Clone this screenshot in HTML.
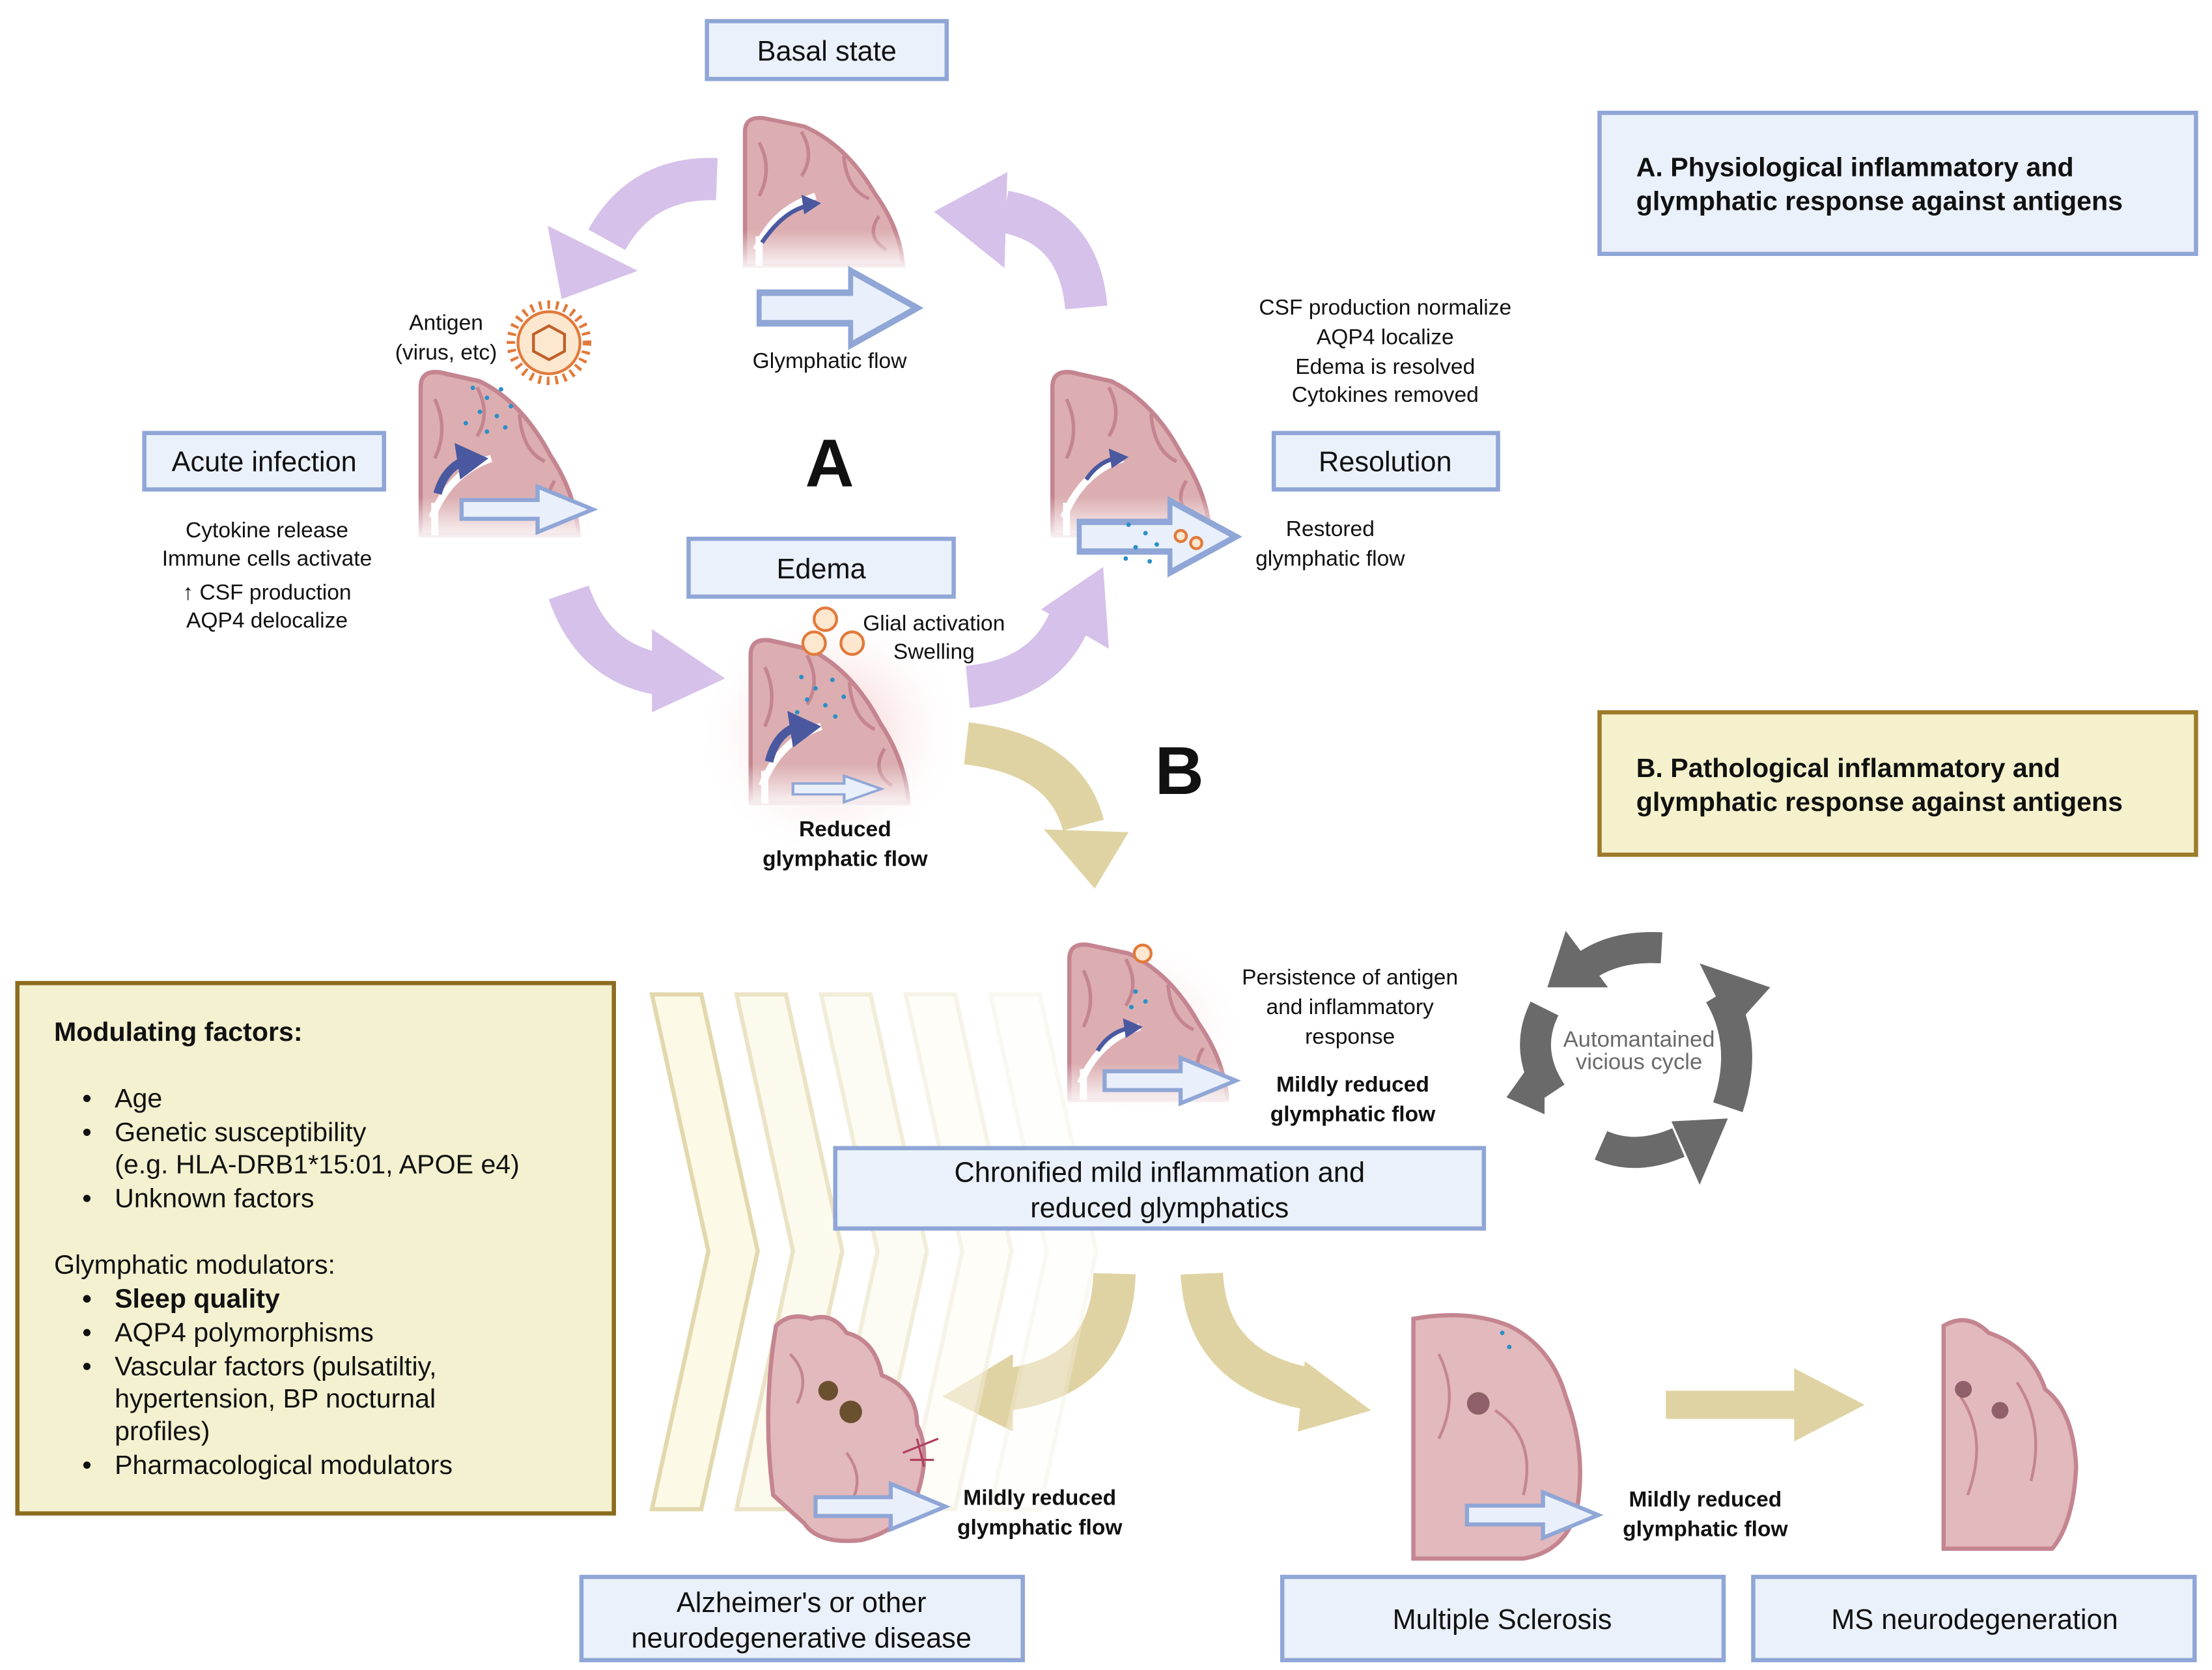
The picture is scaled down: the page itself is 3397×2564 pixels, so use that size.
<!DOCTYPE html>
<html><head><meta charset="utf-8"><style>
html,body{margin:0;padding:0;background:#fff;overflow:hidden}
svg{display:block}
text{font-family:"Liberation Sans",sans-serif;fill:#111}
</style></head><body>
<svg width="3397" height="2564" viewBox="0 0 1568 1184" xmlns="http://www.w3.org/2000/svg">
<defs>
<radialGradient id="glow" cx="50%" cy="50%" r="50%"><stop offset="0" stop-color="#f3b5b8" stop-opacity="0.9"/><stop offset="1" stop-color="#fff" stop-opacity="0"/></radialGradient>
<linearGradient id="fade" x1="0" y1="0" x2="0" y2="1"><stop offset="0.75" stop-color="#fff" stop-opacity="0"/><stop offset="1" stop-color="#fff" stop-opacity="0.9"/></linearGradient>
<g id="brain">
<path d="M0,112 L0,12 Q0,0 14,2 L42,8 Q72,22 92,58 Q110,84 112,112 Z" fill="#dcaeb1" stroke="#c48590" stroke-width="3"/>
<path d="M10,20 Q20,40 10,60 M40,12 Q50,30 40,45 M70,30 Q72,55 88,62 M95,75 Q85,90 100,100" fill="none" stroke="#c48590" stroke-width="2.5"/>
<path d="M8,100 Q20,70 50,60 M10,112 L10,90" fill="none" stroke="#fff" stroke-width="5"/>
<rect x="-2" y="0" width="116" height="114" fill="url(#fade)"/>
</g>
<g id="flow"><path d="M0,10 L55,10 L55,0 L95,17 L55,34 L55,24 L0,24 Z" fill="#e9f0fb" stroke="#8fa6d6" stroke-width="3"/></g>
</defs>

<!-- purple arrows -->
<g fill="none" stroke="#d6c1ea" stroke-width="30">
<path d="M508,127 Q455,125 430,170"/>
<path d="M770,218 Q765,160 712,150"/>
<path d="M403,420 Q420,470 468,478"/>
<path d="M686,487 Q740,482 758,440"/>
</g>
<g fill="#d6c1ea">
<polygon points="398,212 388,160 452,192"/>
<polygon points="662,150 714,122 712,190"/>
<polygon points="514,481 462,446 462,505"/>
<polygon points="782,402 738,432 786,460"/>
</g>
<!-- tan arrows -->
<g fill="none" stroke="#e0d3a3" stroke-width="30">
<path d="M685,527 Q755,535 768,585"/>
<path d="M790,903 Q788,975 715,985"/>
<path d="M852,903 Q855,972 930,985"/>
</g>
<g fill="#e0d3a3">
<polygon points="776,630 740,588 800,590"/>
<polygon points="668,990 718,960 718,1015"/>
<polygon points="972,1000 925,965 920,1015"/>
<polygon points="1181,986 1272,986 1272,970 1322,996 1272,1022 1272,1006 1181,1006"/>
</g>

<!-- chevrons -->
<g stroke-width="3">
<polygon points="462,705 497,705 537,887 497,1070 462,1070 502,887" fill="#fcf9e6" stroke="#e3d8ad"/>
<polygon points="522,705 557,705 597,887 557,1070 522,1070 562,887" fill="#fcfaeb" stroke="#e8dfbc" opacity="0.85"/>
<polygon points="582,705 617,705 657,887 617,1070 582,1070 622,887" fill="#fdfbf0" stroke="#ede6c9" opacity="0.7"/>
<polygon points="642,705 677,705 717,887 677,1070 642,1070 682,887" fill="#fefcf4" stroke="#f1ebd6" opacity="0.55"/>
<polygon points="702,705 737,705 777,887 737,1070 702,1070 742,887" fill="#fefdf8" stroke="#f5f0e2" opacity="0.4"/>
</g>

<!-- glow -->
<ellipse cx="588" cy="520" rx="95" ry="90" fill="url(#glow)"/>
<ellipse cx="812" cy="730" rx="70" ry="65" fill="url(#glow)" opacity="0.6"/>

<!-- brains -->
<use href="#brain" transform="translate(528,82) scale(1,0.95)"/>
<use href="#brain" transform="translate(298,262) scale(1,1.05)"/>
<use href="#brain" transform="translate(746,262) scale(1,1.05)"/>
<use href="#brain" transform="translate(532,452) scale(1,1.05)"/>
<use href="#brain" transform="translate(758,668) scale(1,1)"/>

<!-- bottom brains -->
<g stroke="#c48590" stroke-width="3" fill="#e2b9bc">
<path d="M550,940 Q560,930 575,935 Q590,930 600,945 Q620,950 625,975 Q650,985 650,1010 Q660,1030 650,1060 Q640,1085 610,1092 Q580,1095 570,1080 L548,1060 Q540,1000 550,940 Z"/>
<path d="M1002,935 Q1040,928 1070,940 Q1100,955 1110,990 Q1125,1030 1118,1070 Q1110,1100 1080,1105 L1002,1105 Z"/>
<path d="M1378,940 Q1395,930 1410,945 Q1440,955 1450,985 Q1470,1000 1472,1040 Q1470,1080 1455,1098 L1378,1098 Z"/>
</g>
<g fill="none" stroke="#c48590" stroke-width="2">
<path d="M560,960 Q575,975 565,995 M600,1030 Q615,1050 600,1070 M1020,960 Q1035,990 1020,1020 M1060,1000 Q1090,1020 1080,1060 M1390,990 Q1410,1020 1395,1060 M1430,980 Q1450,1010 1440,1050"/>
</g>
<g fill="#6b5030"><circle cx="587" cy="986" r="7"/><circle cx="603" cy="1001" r="8"/></g>
<g fill="#7a4a55" opacity="0.8"><circle cx="1048" cy="995" r="8"/><circle cx="1392" cy="985" r="6"/><circle cx="1418" cy="1000" r="6"/></g>
<path d="M640,1030 L665,1020 M650,1020 L655,1040 M645,1035 L662,1035" stroke="#b04060" stroke-width="1.5"/>

<!-- inner blue arrows -->
<g fill="#4a58a0">
<path d="M540,172 Q555,150 572,146" stroke="#4a58a0" stroke-width="3" fill="none"/><polygon points="582,144 568,138 570,152"/>
<polygon points="346,325 322,314 326,340"/><path d="M310,350 Q315,332 330,326" stroke="#4a58a0" stroke-width="6" fill="none"/>
<polygon points="800,324 786,318 788,332"/><path d="M770,340 Q778,328 790,325" stroke="#4a58a0" stroke-width="3" fill="none"/>
<polygon points="582,515 558,504 562,530"/><path d="M545,540 Q550,520 565,515" stroke="#4a58a0" stroke-width="6" fill="none"/>
<polygon points="810,728 796,722 798,736"/><path d="M778,745 Q786,732 800,729" stroke="#4a58a0" stroke-width="3" fill="none"/>
</g>
<!-- dots -->
<g fill="#2a8fc8">
<circle cx="335" cy="275" r="1.6"/><circle cx="345" cy="282" r="1.6"/><circle cx="355" cy="276" r="1.6"/><circle cx="340" cy="292" r="1.6"/><circle cx="352" cy="295" r="1.6"/><circle cx="362" cy="288" r="1.6"/><circle cx="330" cy="300" r="1.6"/><circle cx="358" cy="303" r="1.6"/><circle cx="345" cy="306" r="1.6"/>
<circle cx="568" cy="480" r="1.6"/><circle cx="578" cy="488" r="1.6"/><circle cx="590" cy="482" r="1.6"/><circle cx="572" cy="496" r="1.6"/><circle cx="585" cy="500" r="1.6"/><circle cx="598" cy="494" r="1.6"/><circle cx="565" cy="505" r="1.6"/><circle cx="592" cy="508" r="1.6"/>
<circle cx="805" cy="703" r="1.6"/><circle cx="812" cy="710" r="1.6"/><circle cx="802" cy="714" r="1.6"/>
<circle cx="1065" cy="945" r="1.6"/><circle cx="1070" cy="955" r="1.6"/>
</g>

<!-- virus -->
<g fill="none" stroke="#e27a3b" stroke-width="2">
<circle cx="389" cy="243" r="22" fill="#fde8cf"/>
<circle cx="389" cy="243" r="27" stroke-dasharray="2 4" stroke-width="6"/>
<polygon points="389,231 400,237 400,249 389,255 378,249 378,237" stroke="#c0602a"/>
<circle cx="585" cy="439" r="8" fill="#fde8cf"/><circle cx="577" cy="456" r="8" fill="#fde8cf"/><circle cx="604" cy="456" r="8" fill="#fde8cf"/><circle cx="810" cy="676" r="6" fill="#fde8cf"/>
</g>

<!-- flow arrows -->
<use href="#flow" transform="translate(538,192) scale(1.18,1.55)"/>
<use href="#flow" transform="translate(327,345) scale(0.98,0.95)"/>
<use href="#flow" transform="translate(765,355) scale(1.17,1.5)"/>
<use href="#flow" transform="translate(562,550) scale(0.66,0.55)"/>
<use href="#flow" transform="translate(783,750) scale(0.98,0.95)"/>
<use href="#flow" transform="translate(578,1052) scale(0.97,0.95)"/>
<use href="#flow" transform="translate(1040,1058) scale(0.98,0.95)"/>
<g fill="#2a8fc8">
<circle cx="800" cy="372" r="1.6"/><circle cx="812" cy="378" r="1.6"/><circle cx="805" cy="388" r="1.6"/><circle cx="820" cy="386" r="1.6"/><circle cx="798" cy="396" r="1.6"/><circle cx="815" cy="398" r="1.6"/>
</g>
<g fill="#fde8cf" stroke="#e27a3b" stroke-width="2"><circle cx="837" cy="380" r="4"/><circle cx="848" cy="385" r="4"/></g>

<!-- grey cycle -->
<g fill="none" stroke="#6a6a6a" stroke-width="22">
<path d="M1178,672 Q1140,670 1118,690"/>
<path d="M1219,705 Q1240,740 1225,785"/>
<path d="M1190,810 Q1160,823 1135,812"/>
<path d="M1100,775 Q1080,745 1095,715"/>
</g>
<g fill="#6a6a6a">
<polygon points="1097,700 1110,660 1140,700"/>
<polygon points="1205,683 1255,700 1228,730"/>
<polygon points="1185,795 1225,793 1205,840"/>
<polygon points="1068,778 1095,790 1095,740"/>
</g>
<text x="1162" y="742" text-anchor="middle" font-size="16" style="fill:#6a6a6a">Automantained</text>
<text x="1162" y="758" text-anchor="middle" font-size="16" style="fill:#6a6a6a">vicious cycle</text>

<!-- boxes -->
<g fill="#eaf1fb" stroke="#8fa6d6" stroke-width="3">
<rect x="501" y="15" width="170" height="41"/>
<rect x="1134" y="80" width="423" height="100"/>
<rect x="102" y="307" width="170" height="40"/>
<rect x="903" y="307" width="159" height="40"/>
<rect x="488" y="382" width="188" height="41"/>
<rect x="592" y="814" width="460" height="57"/>
<rect x="412" y="1118" width="313" height="59"/>
<rect x="909" y="1118" width="313" height="59"/>
<rect x="1243" y="1118" width="313" height="59"/>
</g>
<rect x="1134" y="505" width="423" height="101" fill="#f4f1cc" stroke="#9c7b2a" stroke-width="3"/>
<rect x="12" y="697" width="423" height="376" fill="#f4f1d0" stroke="#8b6d1f" stroke-width="3"/>

<g font-size="20" text-anchor="middle">
<text x="586" y="43">Basal state</text>
<text x="187" y="334">Acute infection</text>
<text x="982" y="334">Resolution</text>
<text x="582" y="410">Edema</text>
<text x="822" y="838">Chronified mild inflammation and</text>
<text x="822" y="863">reduced glymphatics</text>
<text x="568" y="1143">Alzheimer's or other</text>
<text x="568" y="1168">neurodegenerative disease</text>
<text x="1065" y="1155">Multiple Sclerosis</text>
<text x="1400" y="1155">MS neurodegeneration</text>
</g>
<g font-size="19" font-weight="bold">
<text x="1160" y="125">A. Physiological inflammatory and</text>
<text x="1160" y="149">glymphatic response against antigens</text>
<text x="1160" y="551">B. Pathological inflammatory and</text>
<text x="1160" y="575">glymphatic response against antigens</text>
</g>
<text x="588" y="345" font-size="48" font-weight="bold" text-anchor="middle">A</text>
<text x="836" y="563" font-size="48" font-weight="bold" text-anchor="middle">B</text>

<g font-size="15.5" text-anchor="middle">
<text x="316" y="234">Antigen</text><text x="316" y="255">(virus, etc)</text>
<text x="588" y="261">Glymphatic flow</text>
<text x="189" y="381">Cytokine release</text>
<text x="189" y="401">Immune cells activate</text>
<text x="189" y="425">↑ CSF production</text>
<text x="189" y="445">AQP4 delocalize</text>
<text x="982" y="223">CSF production normalize</text>
<text x="982" y="244">AQP4 localize</text>
<text x="982" y="265">Edema is resolved</text>
<text x="982" y="285">Cytokines removed</text>
<text x="943" y="380">Restored</text><text x="943" y="401">glymphatic flow</text>
<text x="662" y="447">Glial activation</text><text x="662" y="467">Swelling</text>
<text x="957" y="698">Persistence of antigen</text>
<text x="957" y="719">and inflammatory</text>
<text x="957" y="740">response</text>
</g>
<g font-size="15.5" font-weight="bold" text-anchor="middle">
<text x="599" y="593">Reduced</text><text x="599" y="614">glymphatic flow</text>
<text x="959" y="774">Mildly reduced</text><text x="959" y="795">glymphatic flow</text>
<text x="737" y="1067">Mildly reduced</text><text x="737" y="1088">glymphatic flow</text>
<text x="1209" y="1068">Mildly reduced</text><text x="1209" y="1089">glymphatic flow</text>
</g>

<g font-size="19">
<text x="38" y="738" font-weight="bold">Modulating factors:</text>
<text x="58" y="785">•</text><text x="81" y="785">Age</text>
<text x="58" y="809">•</text><text x="81" y="809">Genetic susceptibility</text>
<text x="81" y="832">(e.g. HLA-DRB1*15:01, APOE e4)</text>
<text x="58" y="856">•</text><text x="81" y="856">Unknown factors</text>
<text x="38" y="903">Glymphatic modulators:</text>
<text x="58" y="927" font-weight="bold">•</text><text x="81" y="927" font-weight="bold">Sleep quality</text>
<text x="58" y="951">•</text><text x="81" y="951">AQP4 polymorphisms</text>
<text x="58" y="975">•</text><text x="81" y="975">Vascular factors (pulsatiltiy,</text>
<text x="81" y="998">hypertension, BP nocturnal</text>
<text x="81" y="1021">profiles)</text>
<text x="58" y="1045">•</text><text x="81" y="1045">Pharmacological modulators</text>
</g>
</svg>
</body></html>
